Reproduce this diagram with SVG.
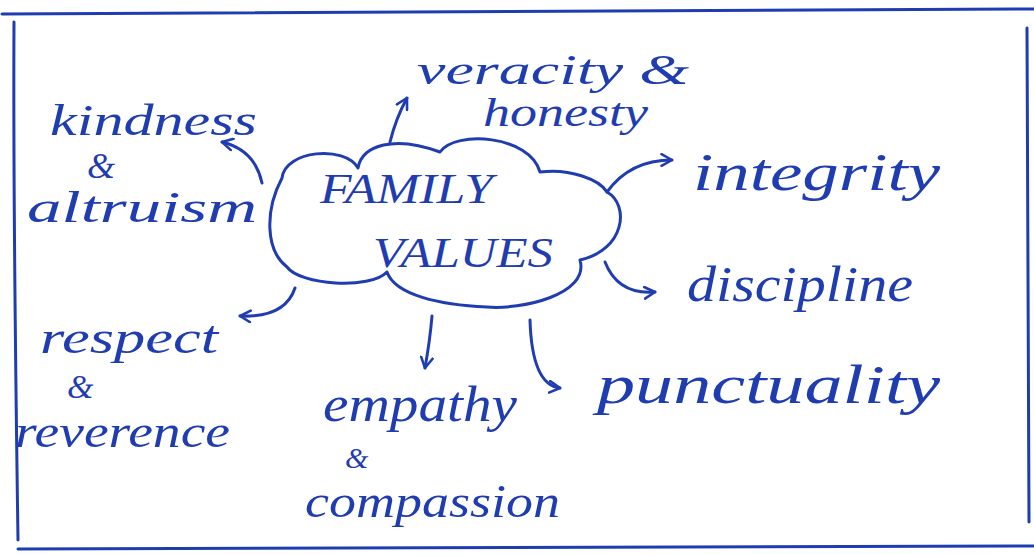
<svg xmlns="http://www.w3.org/2000/svg" width="1034" height="555" viewBox="0 0 1034 555">
<defs>
<style>
.ink{fill:none;stroke:#1f3db0;stroke-width:3;stroke-linecap:round;stroke-linejoin:round}
.t{font-family:"Liberation Serif",serif;font-style:italic;fill:#1f3db0}
</style>
<marker id="ah" viewBox="0 0 12 12" refX="10" refY="6" markerWidth="14" markerHeight="14" markerUnits="userSpaceOnUse" orient="auto">
<path d="M1,1 L10,6 L1,11" fill="none" stroke="#1f3db0" stroke-width="2.2" stroke-linecap="round" stroke-linejoin="round"/>
</marker>
</defs>
<rect x="0" y="0" width="1034" height="555" fill="#ffffff"/>
<g id="frame" class="ink" stroke-width="2.5">
<path d="M2,14 L1034,9"/>
<path d="M14,22 C13,200 16,400 18,540"/>
<path d="M1027,28 L1029,522"/>
<path d="M18,549 L1034,546"/>
</g>
<g id="center">
<path class="ink" d="M282,178 C285,150 345,145 358,168 C362,145 395,135 440,152 C455,130 530,135 540,172 C570,168 600,180 607,192 C630,205 625,250 580,260 C590,295 520,310 487,307 C440,305 395,295 387,272 C370,290 300,285 287,267 C265,250 265,210 282,178 Z"/>
<text class="t" x="320" y="203" font-size="42" textLength="173" lengthAdjust="spacingAndGlyphs">FAMILY</text>
<text class="t" x="373" y="267" font-size="42" textLength="180" lengthAdjust="spacingAndGlyphs">VALUES</text>
</g>
<g id="kindness">
<text class="t" x="50" y="135" font-size="44" textLength="207" lengthAdjust="spacingAndGlyphs">kindness</text>
<text class="t" x="87" y="178" font-size="36">&amp;</text>
<text class="t" x="27" y="222" font-size="44" textLength="230" lengthAdjust="spacingAndGlyphs">altruism</text>
</g>
<g id="veracity">
<text class="t" x="417" y="84" font-size="42" textLength="272" lengthAdjust="spacingAndGlyphs">veracity &amp;</text>
<text class="t" x="483" y="126" font-size="40" textLength="165" lengthAdjust="spacingAndGlyphs">honesty</text>
</g>
<g id="integrity">
<text class="t" x="693" y="190" font-size="52" textLength="247" lengthAdjust="spacingAndGlyphs">integrity</text>
</g>
<g id="discipline">
<text class="t" x="687" y="301" font-size="50" textLength="226" lengthAdjust="spacingAndGlyphs">discipline</text>
</g>
<g id="punctuality">
<text class="t" x="597" y="403" font-size="54" textLength="343" lengthAdjust="spacingAndGlyphs">punctuality</text>
</g>
<g id="respect">
<text class="t" x="40" y="353" font-size="46" textLength="178" lengthAdjust="spacingAndGlyphs">respect</text>
<text class="t" x="67" y="398" font-size="34">&amp;</text>
<text class="t" x="15" y="447" font-size="46" textLength="215" lengthAdjust="spacingAndGlyphs">reverence</text>
</g>
<g id="empathy">
<text class="t" x="323" y="421" font-size="50" textLength="194" lengthAdjust="spacingAndGlyphs">empathy</text>
<text class="t" x="345" y="468" font-size="30">&amp;</text>
<text class="t" x="305" y="517" font-size="46" textLength="255" lengthAdjust="spacingAndGlyphs">compassion</text>
</g>
<g id="connectors" class="ink" marker-end="url(#ah)">
<path d="M390,142 Q396,118 407,98"/>
<path d="M262,183 Q255,150 222,142"/>
<path d="M607,192 Q630,160 672,160"/>
<path d="M605,262 Q618,295 655,292"/>
<path d="M295,288 Q285,318 240,316"/>
<path d="M432,316 Q430,340 425,368"/>
<path d="M530,320 Q532,385 560,388"/>
</g>
</svg>
